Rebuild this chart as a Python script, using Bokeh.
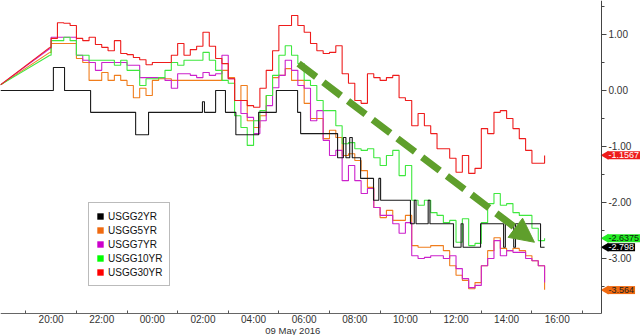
from bokeh.plotting import figure
from bokeh.models import (Range1d, FixedTicker, Label, Arrow, NormalHead, Legend,
                          LegendItem, NumeralTickFormatter)
from bokeh.embed import file_html
from bokeh.resources import INLINE

# hours since 18:00 on 08 May 2016
hours = [0.0, 1.95,
         2.0, 2.25, 2.5, 2.75, 3.0, 3.25, 3.5, 3.75, 4.0, 4.25, 4.5, 4.75,
         5.0, 5.25, 5.5, 5.75, 6.0, 6.25, 6.5, 6.75, 7.0, 7.25, 7.5, 7.75,
         8.0, 8.25, 8.5, 8.75, 9.0, 9.25, 9.5, 9.75, 10.0, 10.25, 10.5, 10.75,
         11.0, 11.25, 11.5, 11.75, 12.0, 12.25, 12.5, 12.75, 13.0, 13.25, 13.5, 13.75,
         14.0, 14.25, 14.5, 14.75, 15.0, 15.25, 15.5, 15.75, 16.0, 16.25, 16.5, 16.75,
         17.0, 17.25, 17.5, 17.75, 18.0, 18.25, 18.5, 18.75, 19.0, 19.25, 19.5, 19.75,
         20.0, 20.25, 20.5, 20.75, 21.0, 21.25, 21.5]

usgg30yr = [0.10, 0.77,
            0.93, 1.21, 1.20, 1.16, 0.93, 0.89, 0.95, 0.82, 0.77, 0.71, 0.89, 0.66,
            0.64, 0.59, 0.55, 0.46, 0.50, 0.50, 0.50, 0.63, 0.84, 0.63, 0.73, 0.79,
            1.04, 0.79, 0.57, 0.48, 0.21, -0.18, -0.18, -0.27, -0.30, 0.04, 0.36, 0.71,
            1.16, 1.16, 1.34, 1.16, 1.04, 0.84, 0.71, 0.66, 0.68, 0.80, 0.30, 0.13,
            -0.18, -0.23, 0.30, 0.23, 0.18, 0.23, 0.27, -0.13, -0.18, -0.63, -0.41, -0.63,
            -0.77, -1.04, -1.04, -1.21, -1.46, -1.16, -1.48, -1.39, -0.68, -0.77, -0.39, -0.36,
            -0.50, -0.68, -0.86, -1.07, -1.30, -1.30, -1.16]

usgg10yr = [0.10, 0.63,
            0.89, 0.89, 0.95, 0.89, 0.63, 0.63, 0.54, 0.54, 0.54, 0.54, 0.45, 0.54,
            0.36, 0.36, 0.09, 0.21, 0.21, 0.23, 0.36, 0.50, 0.45, 0.54, 0.54, 0.54,
            0.68, 0.54, 0.36, 0.18, 0.13, -0.45, -0.66, -0.98, -0.54, -0.36, -0.09, 0.27,
            0.63, 0.80, 0.63, 0.48, 0.18, 0.09, -0.18, -0.36, -0.36, -0.63, -0.95, -0.93,
            -1.04, -1.07, -1.04, -1.20, -1.34, -1.16, -1.07, -1.52, -1.34, -1.96, -2.05, -1.96,
            -2.18, -2.23, -2.36, -2.32, -2.71, -2.29, -2.77, -2.73, -2.36, -2.02, -1.84, -2.05,
            -2.02, -2.18, -2.23, -2.23, -2.46, -2.68, -2.64]

usgg7yr = [0.10, 0.75,
           0.95, 0.95, 0.95, 0.95, 0.63, 0.54, 0.50, 0.36, 0.50, 0.50, 0.50, 0.50,
           0.45, 0.45, 0.23, 0.23, 0.23, 0.23, 0.18, 0.04, 0.30, 0.30, 0.27, 0.23,
           0.32, 0.27, 0.30, 0.63, 0.21, -0.18, -0.41, -0.48, -0.77, -0.54, -0.27, 0.05,
           0.27, 0.54, 0.36, 0.09, 0.04, -0.54, -0.36, -0.89, -1.16, -1.07, -1.61, -1.34,
           -1.61, -1.84, -1.75, -2.09, -2.23, -2.23, -2.38, -2.55, -2.36, -2.95, -3.00, -2.98,
           -2.95, -2.95, -3.00, -2.95, -3.18, -3.36, -3.52, -3.48, -3.13, -3.00, -2.68, -2.95,
           -2.86, -2.89, -2.89, -3.00, -3.04, -3.13, -3.43]

usgg5yr = [0.10, 0.68,
           0.84, 0.84, 0.84, 0.84, 0.57, 0.50, 0.18, 0.18, 0.32, 0.18, 0.27, 0.18,
           0.09, -0.13, 0.04, -0.09, 0.18, 0.21, 0.21, 0.18, 0.18, 0.18, 0.18, 0.18,
           0.18, 0.18, 0.18, 0.36, 0.23, -0.18, 0.09, -0.54, -0.66, -0.45, -0.09, 0.23,
           0.27, 0.39, 0.18, 0.18, -0.23, -0.50, -0.50, -0.86, -0.71, -0.84, -1.16, -1.13,
           -1.25, -1.43, -1.73, -2.09, -2.27, -2.14, -2.32, -2.32, -2.23, -2.77, -2.80, -2.80,
           -2.77, -2.77, -2.86, -3.13, -3.30, -3.39, -3.54, -3.43, -3.13, -2.86, -2.63, -2.82,
           -2.86, -2.82, -2.86, -2.95, -3.04, -3.13, -3.56]

usgg2yr_hours = [0.0, 2.09, 2.53, 3.56, 5.34, 5.85, 7.98, 8.06, 8.50, 8.89, 9.30, 10.20,
                 10.90, 11.74, 11.86, 13.32, 13.55, 13.65, 13.80, 13.90, 14.23, 14.74,
                 14.95, 15.02, 16.20, 16.35, 16.42, 16.90, 16.97, 17.90, 18.20, 18.28,
                 18.97, 19.88, 19.95, 20.28, 20.35, 21.34, 21.5]
usgg2yr = [0.00, 0.41, 0.00, -0.39, -0.79, -0.39, -0.20, -0.39, 0.00, -0.39, -0.79, -0.39,
           0.00, -0.39, -0.77, -1.20, -0.84, -1.20, -0.84, -1.20, -1.57, -1.96,
           -1.57, -1.96, -2.38, -1.96, -2.38, -1.96, -2.38, -2.80, -2.38, -2.80,
           -2.38, -2.80, -2.38, -2.80, -2.38, -2.80, -2.80]

names = ["USGG2YR", "USGG5YR", "USGG7YR", "USGG10YR", "USGG30YR"]
colors = ["#1a1a1a", "#f07d1c", "#cc22cc", "#3ee83e", "#ee1c1c"]
swatch_colors = ["#000000", "#f06a10", "#cc00cc", "#00ff00", "#ff0000"]

last_values = [-2.798, -3.564, -2.6375, -1.1567]
last_labels = ["-2.798", "-3.564", "-2.6375", "-1.1567"]

x_tick_pos = [2, 4, 6, 8, 10, 12, 14, 16, 18, 20, 22]
x_tick_labels = ["20:00", "22:00", "00:00", "02:00", "04:00", "06:00", "08:00",
                 "10:00", "12:00", "14:00", "16:00"]
x_minor_pos = [1, 3, 5, 7, 9, 11, 13, 15, 17, 19, 21, 23]
y_tick_pos = [-3, -2, -1, 0, 1]
y_minor_pos = [-3.5, -2.5, -1.5, -0.5, 0.5, 1.5]
date_label = "09 May 2016"
date_pos = 11.55

# axis extents (data units): time axis ends at 17:45, value axis spans -3.98 .. 1.61
X_END = 23.75
Y_TOP = 1.607
Y_BOTTOM = -3.982
Y_CANVAS_BOTTOM = -4.375

arrow_start = (11.78, 0.48)
arrow_end = (21.1, -2.71)

FONT = "Liberation Sans"

# the frame covers the whole canvas; both axes sit at fixed data locations inside it
p = figure(width=640, height=335, output_backend="svg", toolbar_location=None,
           x_range=Range1d(0.0, 25.29), y_range=Range1d(Y_CANVAS_BOTTOM, Y_TOP),
           y_axis_location="right",
           min_border_left=0, min_border_top=0, min_border_right=0, min_border_bottom=0)
p.outline_line_color = None
p.xgrid.visible = False
p.ygrid.visible = False
p.background_fill_color = "white"
p.border_fill_color = "white"

xa = p.xaxis[0]
xa.fixed_location = Y_BOTTOM
xa.bounds = (0.0, X_END)
xa.ticker = FixedTicker(ticks=x_tick_pos, minor_ticks=x_minor_pos)
xa.major_label_overrides = dict(zip(x_tick_pos, x_tick_labels))
xa.major_tick_in = 0
xa.major_tick_out = 0
xa.minor_tick_in = 3
xa.minor_tick_out = 0
xa.minor_tick_line_color = "#555555"
xa.axis_line_color = "#666666"
xa.major_label_text_font = FONT
xa.major_label_text_font_size = "10px"
xa.major_label_text_color = "#333333"
xa.major_label_standoff = 1

ya = p.yaxis[0]
ya.fixed_location = X_END
ya.bounds = (Y_BOTTOM, Y_TOP)
ya.ticker = FixedTicker(ticks=y_tick_pos, minor_ticks=y_minor_pos)
ya.formatter = NumeralTickFormatter(format="0.00")
ya.major_tick_in = 0
ya.major_tick_out = 5
ya.minor_tick_in = 0
ya.minor_tick_out = 3
ya.axis_line_color = "#444444"
ya.major_tick_line_color = "#444444"
ya.minor_tick_line_color = "#444444"
ya.major_label_text_font = FONT
ya.major_label_text_font_size = "10px"
ya.major_label_text_color = "#333333"
ya.major_label_standoff = 2

# series
def draw_ramped(vals, color):
    p.line(hours[:2], vals[:2], line_color=color, line_width=1.1)
    p.step(hours[1:], vals[1:], mode="after", line_color=color, line_width=1.1)

draw_ramped(usgg5yr, colors[1])
draw_ramped(usgg7yr, colors[2])
draw_ramped(usgg10yr, colors[3])
p.step(usgg2yr_hours, usgg2yr, mode="after", line_color=colors[0], line_width=1.1)
draw_ramped(usgg30yr, colors[4])

# legend swatches (one off-screen square each so the legend can paint them)
items = []
for name, sc in zip(names, swatch_colors):
    r = p.quad(left=[-5], right=[-4], top=[-10], bottom=[-11], fill_color=sc, line_color=None)
    items.append(LegendItem(label=name, renderers=[r]))
legend = Legend(items=items, location=(88, 49), orientation="vertical",
                glyph_width=8, glyph_height=8, label_height=12, label_standoff=4,
                spacing=2, padding=7, margin=0,
                label_text_font=FONT, label_text_font_size="10px",
                label_text_color="#111111",
                border_line_color="#777777", border_line_width=1,
                background_fill_color="white", background_fill_alpha=1.0)
p.add_layout(legend, "center")

# trend arrow
p.add_layout(Arrow(x_start=arrow_start[0], y_start=arrow_start[1],
                   x_end=arrow_end[0], y_end=arrow_end[1],
                   line_color="#5f9f2c", line_width=7, line_dash="22 9",
                   end=NormalHead(size=24, fill_color="#5f9f2c", line_color="#5f9f2c")))

# date under the time axis
p.add_layout(Label(x=date_pos, y=Y_CANVAS_BOTTOM, y_offset=0, text=date_label,
                   text_font=FONT, text_font_size="9.5px", text_color="#333333",
                   text_align="center", text_baseline="bottom"))

# last-value flags on the right axis
flag_order = [3, 2, 0, 1]  # 30yr, 10yr, 2yr, 5yr
flag_bg = {3: "#ee1c1c", 2: "#22ee22", 0: "#000000", 1: "#f06a10"}
flag_fg = {3: "white", 2: "#111111", 0: "white", 1: "#222222"}
for i in flag_order:
    p.scatter([X_END + 0.17], [last_values[i]], marker="triangle", angle=1.5708,
              size=9, fill_color=flag_bg[i], line_color=None)
    p.add_layout(Label(x=X_END, y=last_values[i], x_offset=6, text=last_labels[i],
                       text_font=FONT, text_font_size="9px", text_color=flag_fg[i],
                       text_align="left", text_baseline="middle",
                       background_fill_color=flag_bg[i], padding=1))

open("out.html", "w").write(file_html(p, INLINE))
